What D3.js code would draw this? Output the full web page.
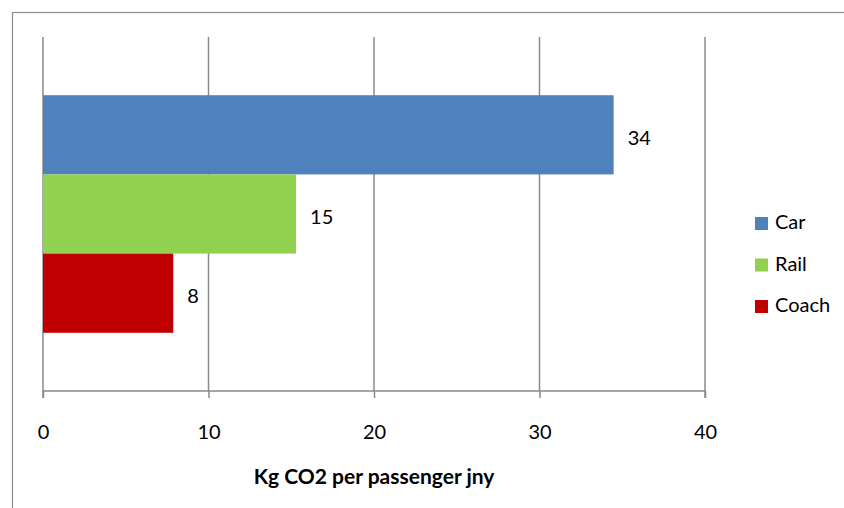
<!DOCTYPE html>
<html>
<head>
<meta charset="utf-8">
<script src="https://cdn.jsdelivr.net/npm/d3@7"></script>
<style>
  html, body { margin: 0; padding: 0; background: #fff; }
  svg { display: block; }
  text { font-family: Lato, "Open Sans", sans-serif; fill: #000; }
</style>
</head>
<body>
<svg id="chart" width="844" height="508"></svg>
<script>
// Emissions per passenger journey, by mode of transport
const modes = ["Car", "Rail", "Coach"];
const emissions = [34.48, 15.29, 7.87];
const colors = ["#4F81BD", "#92D050", "#C00000"];
const xTicks = [0, 10, 20, 30, 40];
const axisTitle = "Kg CO2 per passenger jny";

const svg = d3.select("#chart");
const W = 844, H = 508;
const plot = { left: 43, right: 705, top: 37, bottom: 391 };

// chart frame
svg.append("rect")
  .attr("x", 12.5).attr("y", 12.5)
  .attr("width", W).attr("height", H)
  .attr("fill", "none").attr("stroke", "#8c8c8c").attr("stroke-width", 1.2);

const x = d3.scaleLinear().domain([0, 40]).range([plot.left, plot.right]);
const y = d3.scaleBand().domain(modes)
  .range([plot.top, plot.bottom])
  .paddingInner(0).paddingOuter(0.735);

// vertical gridlines
svg.append("g").selectAll("line").data(xTicks).join("line")
  .attr("x1", d => x(d)).attr("x2", d => x(d))
  .attr("y1", plot.top).attr("y2", plot.bottom)
  .attr("stroke", "#8a8a8a").attr("stroke-width", 1.5);

// bottom axis with ticks
const axis = d3.axisBottom(x).tickValues(xTicks).tickSize(7).tickPadding(27).tickFormat(d3.format("d"));
const ag = svg.append("g").attr("transform", `translate(0,${plot.bottom})`).call(axis);
ag.select(".domain").attr("stroke", "#8a8a8a").attr("stroke-width", 1.5)
  .attr("d", `M${plot.left},7V0H${plot.right}V7`);
ag.selectAll(".tick line").attr("stroke", "#8a8a8a").attr("stroke-width", 1.5);
ag.selectAll(".tick text").attr("font-size", 20).attr("font-family", "Lato, sans-serif").attr("fill", "#000");

// bars
const data = modes.map((m, i) => ({ mode: m, value: emissions[i], color: colors[i] }));
svg.append("g").selectAll("rect").data(data).join("rect")
  .attr("x", x(0))
  .attr("y", d => y(d.mode))
  .attr("width", d => x(d.value) - x(0))
  .attr("height", y.bandwidth())
  .attr("fill", d => d.color);

// value labels
svg.append("g").selectAll("text").data(data).join("text")
  .attr("x", d => x(d.value) + 14)
  .attr("y", d => y(d.mode) + y.bandwidth() / 2)
  .attr("dy", "0.5em")
  .attr("font-size", 20)
  .text(d => Math.round(d.value));

// axis title
svg.append("text")
  .attr("x", (plot.left + plot.right) / 2)
  .attr("y", 484)
  .attr("text-anchor", "middle")
  .attr("font-size", 21)
  .attr("font-weight", "bold")
  .text(axisTitle);

// legend
const lg = svg.append("g").attr("transform", "translate(755,217)");
const item = lg.selectAll("g").data(data).join("g")
  .attr("transform", (d, i) => `translate(0,${i * 41.5})`);
item.append("rect").attr("width", 13).attr("height", 13).attr("fill", d => d.color);
item.append("text").attr("x", 20).attr("y", 12).attr("font-size", 20).text(d => d.mode);
</script>
</body>
</html>
